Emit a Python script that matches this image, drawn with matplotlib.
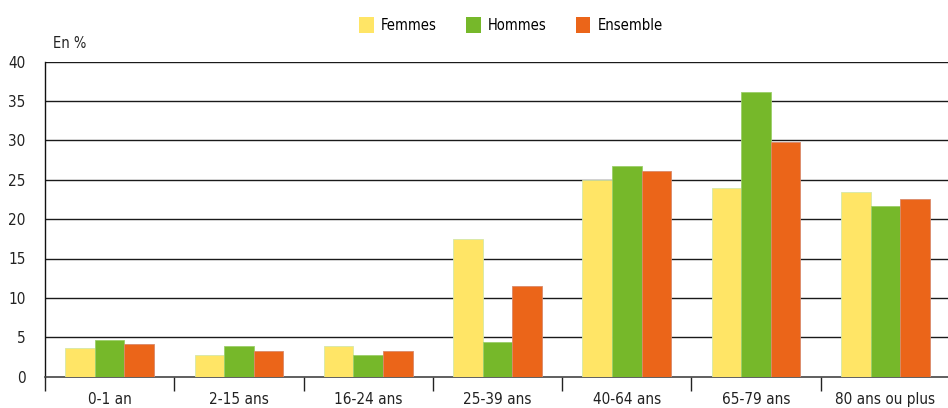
import matplotlib
matplotlib.use("Agg")
import matplotlib.pyplot as plt
from matplotlib.patches import Patch
import numpy as np

categories = ["0-1 an", "2-15 ans", "16-24 ans", "25-39 ans", "40-64 ans", "65-79 ans", "80 ans ou plus"]
femmes = [3.6, 2.7, 3.9, 17.5, 25.0, 23.9, 23.4]
hommes = [4.6, 3.9, 2.7, 4.4, 26.8, 36.1, 21.7]
ensemble = [4.1, 3.2, 3.2, 11.5, 26.1, 29.8, 22.5]
series_names = ["Femmes", "Hommes", "Ensemble"]
colors = ["#FFE566", "#76B82A", "#EB6519"]
edges = ["#d5e8a8", "#9ccf6a", "#d9896a"]
yticks = [0, 5, 10, 15, 20, 25, 30, 35, 40]

plt.rcParams["font.family"] = ["DejaVu Sans"]
plt.rcParams["font.stretch"] = "condensed"

fig = plt.figure(figsize=(9.48, 4.08), dpi=100)
ax = fig.add_axes([45 / 948, 31.3 / 408, 905 / 948, 315.2 / 408])

x = np.arange(len(categories))
w = 0.229
for i, (vals, c, ec) in enumerate(zip([femmes, hommes, ensemble], colors, edges)):
    ax.bar(x + (i - 1) * w, vals, width=w, color=c, edgecolor=ec, linewidth=0.6, zorder=3)

ax.set_xlim(-0.5, len(categories) - 0.5)
ax.set_ylim(0, 40)

# horizontal grid
for t in yticks[1:]:
    ax.axhline(t, color="#1a1a1a", linewidth=1.0, zorder=1)

ax.set_yticks(yticks)
ax.set_yticklabels([str(t) for t in yticks], fontsize=11, color="#222222")
ax.tick_params(axis="y", length=0, pad=14)

# boundary ticks between categories, labels at centres
ax.set_xticks(np.arange(-0.5, len(categories) - 0.5 + 0.01, 1.0))
ax.set_xticklabels([])
ax.tick_params(axis="x", which="major", length=10, width=1.0, color="#222222", direction="out")
ax.set_xticks(x, minor=True)
ax.set_xticklabels(categories, minor=True, fontsize=11, color="#222222")
ax.tick_params(axis="x", which="minor", length=0, pad=11)

for s in ["top", "right"]:
    ax.spines[s].set_visible(False)
ax.spines["left"].set_color("#111111")
ax.spines["left"].set_linewidth(1.0)
ax.spines["bottom"].set_color("#444444")
ax.spines["bottom"].set_linewidth(1.2)

fig.text(53 / 948, 1 - 44 / 408, "En %", fontsize=10.5, color="#222222", va="center", ha="left")

handles = [Patch(facecolor=c, edgecolor="none") for c in colors]
fig.legend(handles, series_names, loc="center", bbox_to_anchor=(511 / 948, 1 - 25 / 408),
           ncol=3, frameon=False, fontsize=10.5, handlelength=1.0, handleheight=1.3,
           handletextpad=0.5, columnspacing=2.0)

fig.savefig("out.png", dpi=100)
